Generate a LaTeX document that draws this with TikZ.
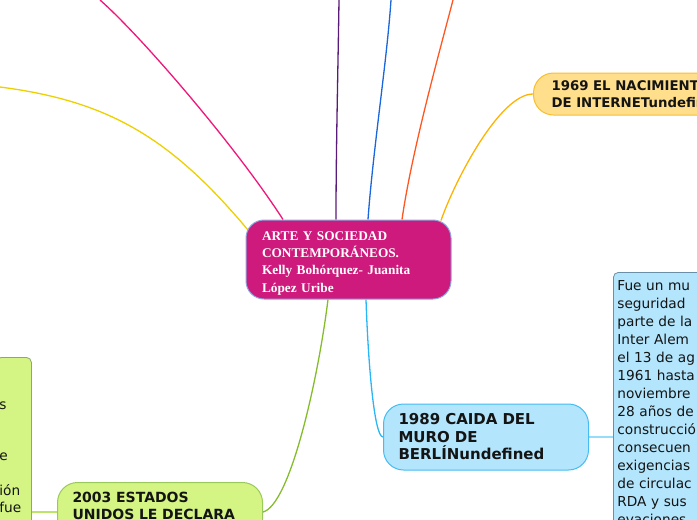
\documentclass[tikz,border=0pt]{standalone}
\usepackage{fontspec}
\newfontfamily\verd{DejaVu Sans}
\newfontfamily\timesb{Liberation Serif}
\usetikzlibrary{calc,backgrounds}
\definecolor{cfill}{HTML}{CF1A7D}
\definecolor{cborder}{HTML}{8EA6DE}
\definecolor{pinkc}{HTML}{F0167A}
\definecolor{yellowc}{HTML}{EDD000}
\definecolor{purplec}{HTML}{5A1A78}
\definecolor{bluec}{HTML}{1A66DC}
\definecolor{redc}{HTML}{FF5722}
\definecolor{orangec}{HTML}{FFB300}
\definecolor{greenc}{HTML}{85BC2C}
\definecolor{lbluec}{HTML}{29B6F6}
\definecolor{ofill}{HTML}{FFDF8C}
\definecolor{oborder}{HTML}{F8BE30}
\definecolor{bfill}{HTML}{B3E5FC}
\definecolor{bborder}{HTML}{45BCF2}
\definecolor{gfill}{HTML}{D4F583}
\definecolor{gborder}{HTML}{98C95A}
\definecolor{rdborder}{HTML}{6A90A8}
\definecolor{ldborder}{HTML}{8FA86A}
\definecolor{txt}{HTML}{141414}
\begin{document}
\begin{tikzpicture}[x=1pt,y=-1pt,
  conn/.style={line width=1.3pt},
  topic/.style={draw, line width=1pt, rounded corners=20pt, align=left, text=txt,
    font=\verd\bfseries\fontsize{14}{17.5}\selectfont},
  detail/.style={draw, line width=0.8pt, rounded corners=5pt, align=left, text=txt,
    inner xsep=4pt, inner ysep=5.4pt, font=\verd\fontsize{13.7}{18}\selectfont}]
\useasboundingbox (0,0) rectangle (697,520);

\node[draw=cborder, line width=1pt, fill=cfill, rounded corners=18pt,
  minimum width=205pt, minimum height=79pt, text width=173pt, inner xsep=16pt,
  align=left, text=white, font=\timesb\bfseries\fontsize{13.3}{17.2}\selectfont]
  (c) at (348.5,259.5) {\rule{0pt}{16.5pt}ARTE Y SOCIEDAD\\CONTEMPORÁNEOS.\\Kelly Bohórquez- Juanita\\López Uribe};

\node[topic, draw=oborder, fill=ofill, anchor=west, minimum height=42pt, inner xsep=18pt,
  font=\verd\bfseries\fontsize{13.3}{17}\selectfont]
  (o) at (533,94) {1969 EL NACIMIENTO\\DE INTERNETundefined};

\node[topic, draw=bborder, fill=bfill, minimum width=205pt, minimum height=66pt,
  text width=175pt, inner xsep=15pt, font=\verd\bfseries\fontsize{15}{17.5}\selectfont]
  (b) at (486,437) {1989 CAIDA DEL\\MURO DE\\BERLÍNundefined};

\node[topic, draw=gborder, fill=gfill, anchor=north west, text width=175pt,
  inner xsep=15pt, inner ysep=9.5pt]
  (g) at (57,482) {2003 ESTADOS\\UNIDOS LE DECLARA\\\mbox{}};

\node[detail, draw=rdborder, fill=bfill, anchor=north west, text width=200pt]
  (rd) at (613,272) {\strut Fue un mu\\seguridad\\parte de la\\Inter Alem\\el 13 de ag\\1961 hasta\\noviembre\\28 años de\\construcció\\consecuen\\exigencias\\de circulac\\RDA y sus\\evaciones\\\mbox{}};

\node[detail, draw=ldborder, fill=gfill, anchor=north west, text width=29pt, inner xsep=3pt,
  font=\verd\fontsize{13.7}{17.2}\selectfont]
  (ld) at (-4,357) {\strut\\\mbox{}\\s\\\mbox{}\\\mbox{}\\e\\\mbox{}\\ión\\fue\\\mbox{}\\\mbox{}};

\coordinate (pend) at (100,0);
\coordinate (yend) at (0,87);
\coordinate (puend) at (339,0);
\coordinate (bend) at (391,0);
\coordinate (rend) at (453,0);

\begin{scope}[on background layer]
\draw[conn, pinkc] ($(c.north)+(-65.5,0)$) .. controls (235,145) and (140,35) .. (pend);
\draw[conn, yellowc] ($(c.center)+(-100.5,-29.5)$) .. controls (170,137) and (108,101) .. (yend);
\draw[conn, purplec] ($(c.north)+(-12.5,0)$) .. controls (336,150) and (338,70) .. (puend);
\draw[conn, bluec] ($(c.north)+(19.5,0)$) .. controls (373,150) and (387,60) .. (bend);
\draw[conn, redc] ($(c.north)+(53.5,0)$) .. controls (412,150) and (440,50) .. (rend);
\draw[conn, orangec] ($(c.north east)+(-10.5,1)$) .. controls (455,180) and (500,94) .. (o.west);
\draw[conn, greenc] ($(c.south)+(-20.5,0)$) .. controls (318,380) and (290,505) .. ($(g.north east)+(0,30)$);
\draw[conn, lbluec] ($(c.south)+(17.5,0)$) .. controls (368,360) and (374,437) .. (b.west);
\draw[line width=1.2pt, bfill!80!lbluec] (b.east) -- (rd.west |- b.east);
\draw[line width=1.2pt, gfill!70!greenc] ($(g.north west)+(0,30)$) -- (ld.east |- {$(g.north west)+(0,30)$});
\end{scope}
\end{tikzpicture}
\end{document}
